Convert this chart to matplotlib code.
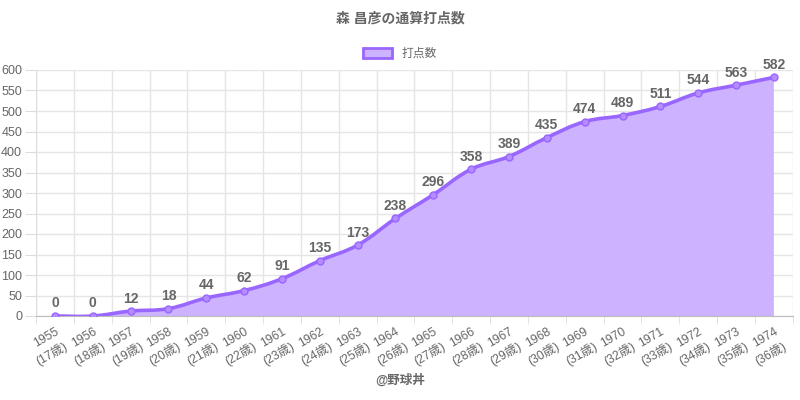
import matplotlib
matplotlib.use('Agg')
import matplotlib.pyplot as plt
from matplotlib.path import Path
from matplotlib.patches import PathPatch, Patch
import numpy as np

plt.rcParams['font.family'] = ['Liberation Sans', 'Noto Sans CJK JP', 'DejaVu Sans']

title = '森 昌彦の通算打点数'
series_name = '打点数'
source = '@野球丼'
years = [1955, 1956, 1957, 1958, 1959, 1960, 1961, 1962, 1963, 1964,
         1965, 1966, 1967, 1968, 1969, 1970, 1971, 1972, 1973, 1974]
ages = [17, 18, 19, 20, 21, 22, 23, 24, 25, 26,
        27, 28, 29, 30, 31, 32, 33, 34, 35, 36]
rbi = [0, 0, 12, 18, 44, 62, 91, 135, 173, 238,
       296, 358, 389, 435, 474, 489, 511, 544, 563, 582]

LINE = '#9966ff'
FILL = '#ccb2ff'
GRAY = '#666666'

fig = plt.figure(figsize=(8, 4), dpi=100)
ax = fig.add_axes([0.045, 0.21, 0.946, 0.615])

n = len(years)
x = np.arange(n, dtype=float)
y = np.array(rbi, dtype=float)
ax.set_xlim(-0.5, n - 0.5)
ax.set_ylim(0, 600)

# chart.js style bezier (tension 0.4), distances in pixel space
sx = 757 / n
sy = 246 / 600
t = 0.4
px, py = x * sx, y * sy
cps = []
for i in range(n):
    p0 = max(i - 1, 0); p2 = min(i + 1, n - 1)
    d01 = np.hypot(px[i] - px[p0], py[i] - py[p0])
    d12 = np.hypot(px[p2] - px[i], py[p2] - py[i])
    tot = d01 + d12
    s01 = d01 / tot if tot else 0
    s12 = d12 / tot if tot else 0
    dx, dy = x[p2] - x[p0], y[p2] - y[p0]
    cps.append(((x[i] - t * s01 * dx, y[i] - t * s01 * dy),
                (x[i] + t * s12 * dx, max(0, min(600, y[i] + t * s12 * dy)))))
verts = [(x[0], y[0])]
codes = [Path.MOVETO]
for i in range(1, n):
    verts += [cps[i - 1][1], cps[i][0], (x[i], y[i])]
    codes += [Path.CURVE4] * 3
line_path = Path(verts, codes)
fill_path = Path(verts + [(x[-1], 0), (x[0], 0), (x[0], 0)],
                 codes + [Path.LINETO, Path.LINETO, Path.CLOSEPOLY])
ax.add_patch(PathPatch(fill_path, facecolor=FILL, edgecolor='none', zorder=2))
ax.add_patch(PathPatch(line_path, facecolor='none', edgecolor=LINE, lw=2.6, zorder=3))
ax.plot(x, y, 'o', ms=5, mfc='#b48cff', mec=LINE, mew=1, zorder=4)

for xi, yi in zip(x, rbi):
    ax.annotate(str(yi), (xi, yi), xytext=(0, 4), textcoords='offset points',
                ha='center', va='bottom', fontsize=10, fontweight='bold', color=GRAY, zorder=5)

ax.set_xticks(x)
ax.set_xticklabels([f'{a}\n({b}歳)' for a, b in zip(years, ages)], rotation=30,
                   ha='right', rotation_mode='anchor', multialignment='right',
                   fontsize=8.8, color=GRAY, linespacing=1.45)
ax.set_xticks(np.arange(n + 1) - 0.5, minor=True)
ax.tick_params(axis='x', which='major', length=0, pad=7)
ax.tick_params(axis='x', which='minor', length=6, color='#dddddd')
ax.set_yticks(np.arange(0, 601, 50))
ax.tick_params(axis='y', labelsize=9, labelcolor=GRAY, length=8, color='#dddddd', pad=2)
ax.grid(True, which='minor', axis='x', color='#e5e5e5', lw=1, zorder=0)
ax.grid(True, which='major', axis='y', color='#e5e5e5', lw=1, zorder=0)
for s in ['top', 'right']:
    ax.spines[s].set_visible(False)
ax.spines['left'].set_color('#dddddd')
ax.spines['bottom'].set_color('#bbbbbb')

fig.text(0.5, 1 - 18 / 400, title, ha='center', va='center', fontsize=10,
         fontweight='bold', color=GRAY)
fig.legend([Patch(facecolor=FILL, edgecolor=LINE, lw=2)], [series_name],
           loc='center', bbox_to_anchor=(0.5, 1 - 54 / 400), frameon=False,
           fontsize=8.5, handlelength=2.4, handleheight=0.9, labelcolor=GRAY)
fig.text(0.5, 1 - 380 / 400, source, ha='center', va='center', fontsize=9,
         fontweight='bold', color=GRAY)

fig.savefig('out.png', dpi=100)
